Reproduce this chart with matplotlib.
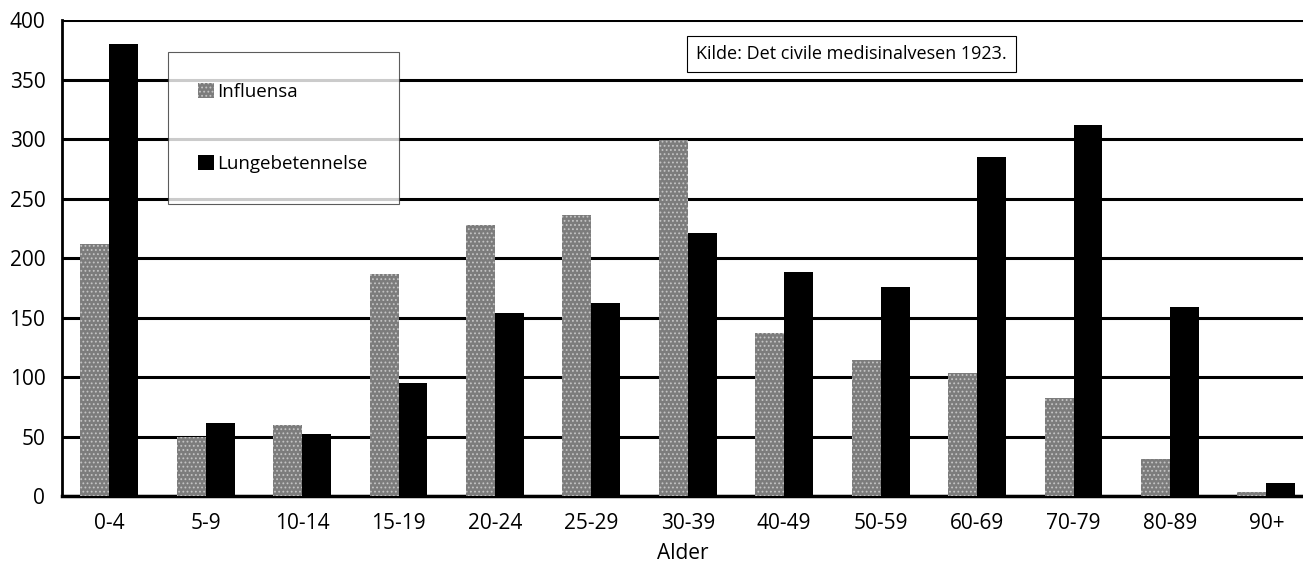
import matplotlib
matplotlib.use("Agg")
import matplotlib.pyplot as plt
import numpy as np

# Dødsfall etter alder, 1923
age_groups = ["0-4", "5-9", "10-14", "15-19", "20-24", "25-29", "30-39",
              "40-49", "50-59", "60-69", "70-79", "80-89", "90+"]
influensa = [212, 50, 60, 187, 228, 236, 299, 137, 114, 103, 82, 31, 3]
lungebetennelse = [380, 61, 52, 95, 154, 162, 221, 188, 176, 285, 312, 159, 11]
y_ticks = [0, 50, 100, 150, 200, 250, 300, 350, 400]
source_note = "Kilde: Det civile medisinalvesen 1923."

plt.rcParams["font.family"] = ["Open Sans", "DejaVu Sans"]
plt.rcParams["hatch.linewidth"] = 0.8

fig = plt.figure(figsize=(13.03, 5.65), dpi=100)
ax = fig.add_axes([0.0476, 0.122, 0.9524, 0.8425])

x = np.arange(len(age_groups))
w = 0.3
ax.bar(x - w / 2, influensa, width=w, color="#7c7c7c", edgecolor="#c4c4c4",
       hatch="....", linewidth=0, label="Influensa", zorder=3)
ax.bar(x + w / 2, lungebetennelse, width=w, color="black", edgecolor="black",
       linewidth=0, label="Lungebetennelse", zorder=3)

ax.set_xlim(-0.49, 12.38)
ax.set_ylim(0, 400)
ax.set_yticks(y_ticks)
ax.set_xticks(x)
ax.set_xticklabels(age_groups)
ax.tick_params(axis="both", length=0, labelsize=15)
ax.tick_params(axis="x", pad=12)
ax.tick_params(axis="y", pad=12)
ax.set_xlabel("Alder", fontsize=15, labelpad=7)

ax.yaxis.grid(True, color="black", linewidth=2.2, zorder=1)
ax.set_axisbelow(True)
for side in ["top", "right"]:
    ax.spines[side].set_visible(False)
ax.spines["left"].set_linewidth(2)
ax.spines["bottom"].set_linewidth(2.5)

leg = ax.legend(loc="upper left", bbox_to_anchor=(0.085, 0.933), fontsize=13.5,
                frameon=True, fancybox=False, edgecolor="#333333",
                handlelength=0.85, handleheight=0.85, handletextpad=0.15,
                labelspacing=2.9, borderpad=1.65, borderaxespad=0)
leg.get_frame().set_linewidth(0.8)

ax.text(0.511, 0.929, source_note, transform=ax.transAxes, fontsize=13,
        va="center", ha="left",
        bbox=dict(boxstyle="square,pad=0.5", facecolor="white",
                  edgecolor="black", linewidth=0.8), zorder=5)

fig.savefig("out.png", dpi=100)
